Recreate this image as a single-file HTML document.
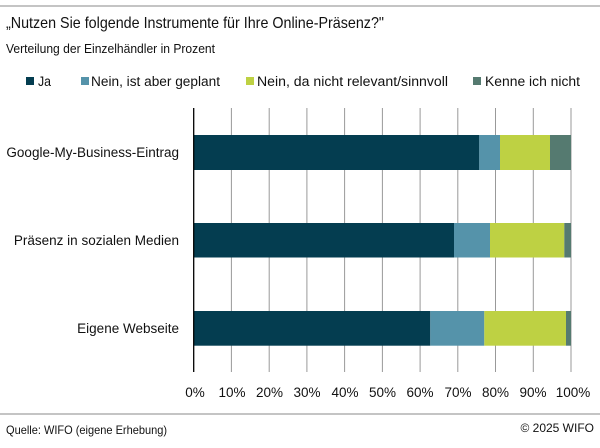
<!DOCTYPE html>
<html><head><meta charset="utf-8"><style>
html,body{margin:0;padding:0;background:#fff;}
svg text{font-family:"Liberation Sans Narrow","Liberation Sans",sans-serif;fill:#111;}
</style></head><body>
<svg width="600" height="443" viewBox="0 0 600 443" xmlns="http://www.w3.org/2000/svg">
<line x1="0" y1="6" x2="600" y2="6" stroke="#888" stroke-width="1"/>
<text x="6" y="28" font-size="16" textLength="378" lengthAdjust="spacingAndGlyphs">„Nutzen Sie folgende Instrumente für Ihre Online-Präsenz?"</text>
<text x="6" y="53" font-size="12.5" textLength="209" lengthAdjust="spacingAndGlyphs">Verteilung der Einzelhändler in Prozent</text>
<rect x="26" y="77" width="8" height="8" fill="#043d50"/>
<text x="38" y="86" font-size="13.5" textLength="13" lengthAdjust="spacingAndGlyphs">Ja</text>
<rect x="81" y="77" width="8" height="8" fill="#5593aa"/>
<text x="91" y="86" font-size="13.5" textLength="129" lengthAdjust="spacingAndGlyphs">Nein, ist aber geplant</text>
<rect x="246" y="77" width="8" height="8" fill="#bed143"/>
<text x="257" y="86" font-size="13.5" textLength="191" lengthAdjust="spacingAndGlyphs">Nein, da nicht relevant/sinnvoll</text>
<rect x="473" y="77" width="8" height="8" fill="#557a70"/>
<text x="485" y="86" font-size="13.5" textLength="95" lengthAdjust="spacingAndGlyphs">Kenne ich nicht</text>
<g stroke="#999" stroke-width="1">
<line x1="231.4" y1="108" x2="231.4" y2="372"/><line x1="269.2" y1="108" x2="269.2" y2="372"/>
<line x1="306.9" y1="108" x2="306.9" y2="372"/><line x1="344.6" y1="108" x2="344.6" y2="372"/>
<line x1="382.4" y1="108" x2="382.4" y2="372"/><line x1="420.1" y1="108" x2="420.1" y2="372"/>
<line x1="457.8" y1="108" x2="457.8" y2="372"/><line x1="495.5" y1="108" x2="495.5" y2="372"/>
<line x1="533.3" y1="108" x2="533.3" y2="372"/><line x1="571" y1="108" x2="571" y2="372"/>
</g>
<g>
<rect x="193.7" y="135" width="285.6" height="35" fill="#043d50"/>
<rect x="479.3" y="135" width="20.7" height="35" fill="#5593aa"/>
<rect x="500" y="135" width="50" height="35" fill="#bed143"/>
<rect x="550" y="135" width="21" height="35" fill="#557a70"/>
<rect x="193.7" y="223" width="260.3" height="34.5" fill="#043d50"/>
<rect x="454" y="223" width="36" height="34.5" fill="#5593aa"/>
<rect x="490" y="223" width="74.3" height="34.5" fill="#bed143"/>
<rect x="564.3" y="223" width="6.7" height="34.5" fill="#557a70"/>
<rect x="193.7" y="311" width="236.6" height="34.7" fill="#043d50"/>
<rect x="430.3" y="311" width="54" height="34.7" fill="#5593aa"/>
<rect x="484.3" y="311" width="81.7" height="34.7" fill="#bed143"/>
<rect x="566" y="311" width="5" height="34.7" fill="#557a70"/>
</g>
<line x1="193.7" y1="108" x2="193.7" y2="372" stroke="#000" stroke-width="1.3"/>
<g font-size="13.5" text-anchor="end">
<text x="179" y="157">Google-My-Business-Eintrag</text>
<text x="179" y="245">Präsenz in sozialen Medien</text>
<text x="179" y="333">Eigene Webseite</text>
</g>
<g font-size="13.5" text-anchor="middle">
<text x="195" y="397">0%</text><text x="232" y="397">10%</text><text x="269.5" y="397">20%</text>
<text x="307" y="397">30%</text><text x="345" y="397">40%</text><text x="382.5" y="397">50%</text>
<text x="420" y="397">60%</text><text x="458" y="397">70%</text><text x="495.5" y="397">80%</text>
<text x="533" y="397">90%</text><text x="573" y="397">100%</text>
</g>
<line x1="0" y1="414" x2="600" y2="414" stroke="#888" stroke-width="1"/>
<text x="6" y="434" font-size="12" textLength="161" lengthAdjust="spacingAndGlyphs">Quelle: WIFO (eigene Erhebung)</text>
<text x="594" y="432" font-size="12" text-anchor="end">© 2025 WIFO</text>
</svg>
</body></html>
